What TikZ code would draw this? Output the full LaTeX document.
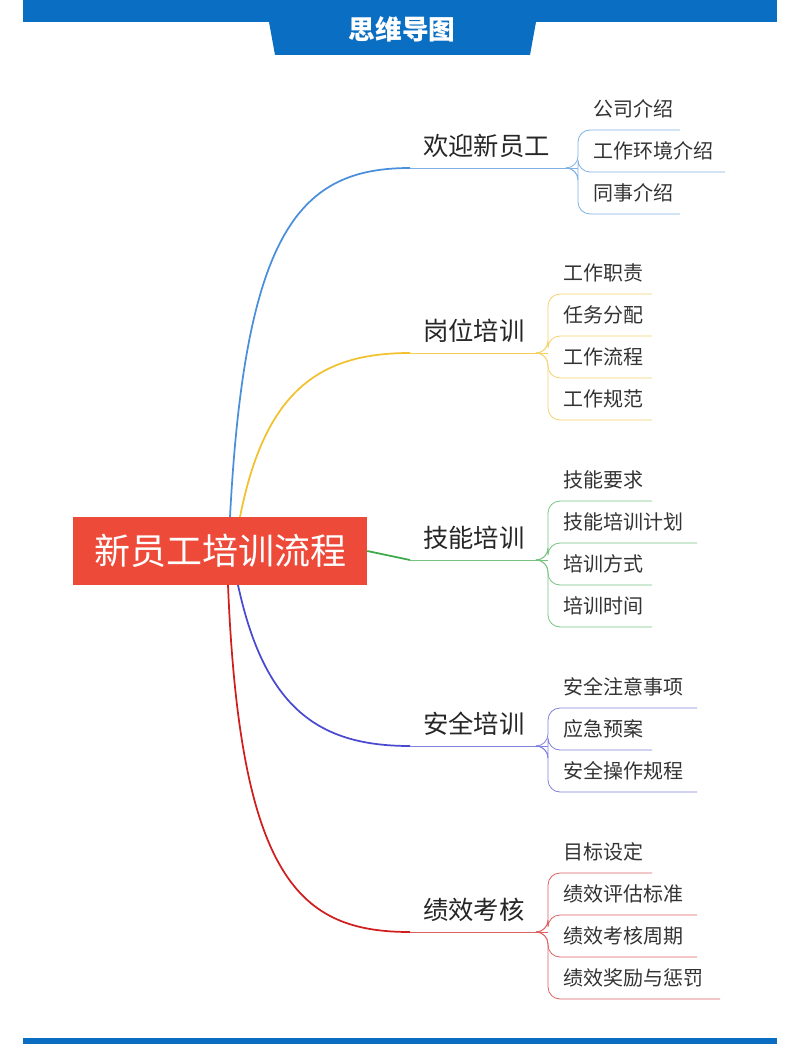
\documentclass[tikz,border=0pt]{standalone}
\usepackage{fontspec}
\setmainfont{Noto Sans CJK SC}
\begin{document}
\begin{tikzpicture}[x=0.75pt,y=-0.75pt,
  main/.style={anchor=west,text=black!85,font=\fontsize{19}{20}\selectfont,inner sep=0pt},
  sub/.style={anchor=west,text=black!80,font=\fontsize{15}{16}\selectfont,inner sep=0pt},
  br/.style={line width=1.3pt},
  sl/.style={line width=0.6pt,rounded corners=9pt}]
\definecolor{hb}{HTML}{0A6FC2}
\definecolor{c1}{HTML}{4A8FDB}
\definecolor{c2}{HTML}{F2C12E}
\definecolor{c3}{HTML}{3BAA4A}
\definecolor{c4}{HTML}{4A4AD0}
\definecolor{c5}{HTML}{D01E1E}
\definecolor{cn}{HTML}{EE4A3A}
\useasboundingbox (0,0) rectangle (800,1044);
\fill[white] (0,0) rectangle (800,1044);
\fill[hb] (23,0) rectangle (777,22);
\fill[hb] (265,0) -- (540,0) -- (530,55) -- (275,55) -- cycle;
\node[text=white,font=\fontsize{20}{22}\selectfont\bfseries] (title) at (402,29) {思维导图};
\fill[hb] (23,1038) rectangle (777,1044);
\node[fill=cn,minimum width=294*0.75pt,minimum height=68*0.75pt,text=white,font=\fontsize{27}{30}\selectfont] (center) at (220,551) {新员工培训流程};
\coordinate (s1) at (410,168); \coordinate (s2) at (410,353); \coordinate (s3) at (410,560);
\coordinate (s4) at (410,746); \coordinate (s5) at (410,932);
\draw[br,c1] (230,517) .. controls (245,230) and (300,168) .. (s1);
\draw[br,c2] (240,517) .. controls (265,390) and (320,353) .. (s2);
\draw[br,c3] (center.east) -- (s3);
\draw[br,c4] (238,585) .. controls (265,710) and (320,746) .. (s4);
\draw[br,c5] (228,585) .. controls (240,880) and (300,932) .. (s5);
\node[main] (b1) at (423,146) {欢迎新员工};
\node[main] (b2) at (423,331) {岗位培训};
\node[main] (b3) at (423,538) {技能培训};
\node[main] (b4) at (423,724) {安全培训};
\node[main] (b5) at (423,910) {绩效考核};
\def\sub#1#2#3#4#5#6{%
  \node[sub] at (#3+15,#4) {#5};
  \draw[sl,#2!70] (#3-10,#1) -- (#3,#1) |- (#6,#4+21);}
\draw[line width=0.6pt,c1!70] (s1) -- (578,168);
\sub{168}{c1}{578}{109}{公司介绍}{680}
\sub{168}{c1}{578}{151}{工作环境介绍}{725}
\sub{168}{c1}{578}{193}{同事介绍}{680}
\draw[line width=0.6pt,c2!80] (s2) -- (548,353);
\sub{353}{c2}{548}{273}{工作职责}{652}
\sub{353}{c2}{548}{315}{任务分配}{652}
\sub{353}{c2}{548}{357}{工作流程}{652}
\sub{353}{c2}{548}{399}{工作规范}{652}
\draw[line width=0.6pt,c3!70] (s3) -- (548,560);
\sub{560}{c3}{548}{480}{技能要求}{652}
\sub{560}{c3}{548}{522}{技能培训计划}{697}
\sub{560}{c3}{548}{564}{培训方式}{652}
\sub{560}{c3}{548}{606}{培训时间}{652}
\draw[line width=0.6pt,c4!70] (s4) -- (548,746);
\sub{746}{c4}{548}{687}{安全注意事项}{697}
\sub{746}{c4}{548}{729}{应急预案}{652}
\sub{746}{c4}{548}{771}{安全操作规程}{697}
\draw[line width=0.6pt,c5!70] (s5) -- (548,932);
\sub{932}{c5}{548}{852}{目标设定}{652}
\sub{932}{c5}{548}{894}{绩效评估标准}{697}
\sub{932}{c5}{548}{936}{绩效考核周期}{697}
\sub{932}{c5}{548}{978}{绩效奖励与惩罚}{720}
\end{tikzpicture}
\end{document}
